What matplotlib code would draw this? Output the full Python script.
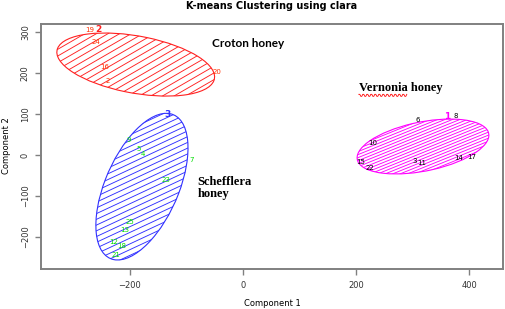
import numpy as np
import matplotlib
matplotlib.use('Agg')
import matplotlib.pyplot as plt
from matplotlib.patches import Ellipse
from matplotlib.lines import Line2D
from matplotlib.transforms import IdentityTransform

# point labels, by cluster
red_labels = ['19', '24', '16', '2', '20']
red_x = [-271, -260, -244, -239, -46]
red_y = [305, 276, 215, 180, 202]

green_labels = ['9', '5', '4', '7', '23', '25', '13', '12', '18', '21']
green_x = [-202, -184, -177, -90, -136, -200, -209, -229, -214, -225]
green_y = [37, 15, 2, -12, -61, -163, -183, -213, -221, -244]

black_labels = ['6', '8', '10', '15', '22', '3', '11', '14', '17']
black_x = [310, 377, 230, 209, 224, 304, 316, 382, 405]
black_y = [85, 95, 29, -18, -31, -14, -20, -7, -5]

# cluster number labels
clus_labels = ['2', '3', '1']
clus_x = [-255, -133, 361]
clus_y = [307, 100, 95]

# spanning ellipses (centre, semi axes, angle in data units)
ell_cx = [-189.5, -178.5, 318.5]
ell_cy = [221, -77, 21]
ell_a = [143.7, 184.9, 120.8]
ell_b = [68.8, 67.0, 58.9]
ell_ang = [-15.9, 74.4, 17.6]
ell_col = ['#ff2020', '#3030ff', '#ff00ff']
hatch_ang = [30, 25, 22]
hatch_gap = [5.8, 5.2, 2.8]

xticks = [-200, 0, 200, 400]
yticks = [-200, -100, 0, 100, 200, 300]

fig = plt.figure(figsize=(5.05, 3.09), dpi=100)
ax = fig.add_axes([41 / 505, 1 - 269 / 309, 462 / 505, 245 / 309])
ax.set_xlim(-357, 460)
ax.set_ylim(-278, 320)
ax.set_autoscale_on(False)

for s in ax.spines.values():
    s.set_color('#808080')
    s.set_linewidth(1.4)
ax.set_xticks(xticks)
ax.set_yticks(yticks)
ax.tick_params(colors='#808080', length=4, width=1, labelsize=6,
               labelcolor='#333333')
ax.tick_params(axis='x', pad=5)
ax.tick_params(axis='y', pad=4, labelrotation=90)
for t in ax.get_yticklabels():
    t.set_va('center')

# ellipses with hand drawn hatching
for i in range(3):
    ell = Ellipse((ell_cx[i], ell_cy[i]), 2 * ell_a[i], 2 * ell_b[i],
                  angle=ell_ang[i], fill=False, edgecolor=ell_col[i], lw=0.8)
    ax.add_patch(ell)
    bb = ell.get_window_extent()
    cx, cy = (bb.x0 + bb.x1) / 2, (bb.y0 + bb.y1) / 2
    R = np.hypot(bb.width, bb.height) / 2 + 2
    th = np.radians(hatch_ang[i])
    d = np.array([np.cos(th), np.sin(th)])
    n = np.array([-np.sin(th), np.cos(th)])
    k = int(R / hatch_gap[i]) + 1
    for j in range(-k, k + 1):
        p = np.array([cx, cy]) + n * j * hatch_gap[i]
        p0, p1 = p - d * R, p + d * R
        ln = Line2D([p0[0], p1[0]], [p0[1], p1[1]], transform=IdentityTransform(),
                    color=ell_col[i], lw=0.65)
        ln.set_clip_path(ell)
        ax.add_artist(ln)

for lab, x, y in zip(red_labels, red_x, red_y):
    ax.text(x, y, lab, color='#ff3000', fontsize=5, ha='center', va='center')
for lab, x, y in zip(green_labels, green_x, green_y):
    ax.text(x, y, lab, color='#00dd00', fontsize=5, ha='center', va='center')
for lab, x, y in zip(black_labels, black_x, black_y):
    ax.text(x, y, lab, color='black', fontsize=5, ha='center', va='center')
for lab, x, y, c in zip(clus_labels, clus_x, clus_y, ell_col):
    ax.text(x, y, lab, color=c, fontsize=6.5, fontweight='bold',
            ha='center', va='center')

# annotations
ax.text(-55, 273, 'Croton honey', family='Lato', fontweight='bold',
        fontsize=8.5, ha='left', va='center')
ax.text(205, 163, 'Vernonia honey', family='Liberation Serif',
        fontweight='bold', fontsize=9, ha='left', va='center')
ax.text(-80, -50, 'Schefflera\nhoney', family='Liberation Serif',
        fontweight='bold', fontsize=9, ha='left', va='top',
        linespacing=1.1)

# red spell-check squiggle under "Vernonia"
fig.canvas.draw()
tmp = ax.text(205, 163, 'Vernonia', family='Liberation Serif',
              fontweight='bold', fontsize=9, ha='left', va='center')
wb = tmp.get_window_extent(fig.canvas.get_renderer())
tmp.remove()
sx = np.arange(wb.x0, wb.x1, 1.0)
sy = wb.y0 - 1 + 1.0 * np.where(np.arange(len(sx)) % 4 < 2, 1, -1)
ax.add_artist(Line2D(sx, sy, transform=IdentityTransform(), color='red', lw=0.6))

fig.text(272 / 505, 1 - 6 / 309, 'K-means Clustering using clara',
         fontweight='bold', fontsize=7, ha='center', va='center')
fig.text(272 / 505, 1 - 303 / 309, 'Component 1', fontsize=6,
         ha='center', va='center')
fig.text(7 / 505, 1 - 146 / 309, 'Component 2', fontsize=6, rotation=90,
         ha='center', va='center')

fig.savefig('out.png', dpi=100)
